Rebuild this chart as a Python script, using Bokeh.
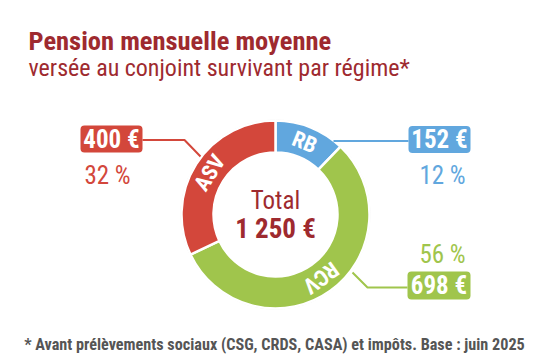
import numpy as np
from bokeh.plotting import figure
from bokeh.models import Range1d
from bokeh.core.properties import value
from bokeh.embed import file_html
from bokeh.resources import INLINE

# ---- data ----
regimes = ["RB", "RCV", "ASV"]
amounts = [152, 698, 400]
colors = ["#61a7de", "#a0c54c", "#d3473b"]
title = "Pension mensuelle moyenne"
subtitle = "versée au conjoint survivant par régime*"
footnote = "* Avant prélèvements sociaux (CSG, CRDS, CASA) et impôts. Base : juin 2025"

total = sum(amounts)
fracs = np.array(amounts) / total
cum = np.cumsum(fracs)

FONT = value("Roboto Condensed")
DARK = "#9e2a2f"

def Y(y):
    return 356 - y

p = figure(width=550, height=356, x_range=Range1d(0, 550), y_range=Range1d(0, 356),
           output_backend="svg", toolbar_location=None, min_border=0)
p.axis.visible = False
p.grid.visible = False
p.outline_line_color = None
p.background_fill_color = "white"

cx, cy = 275, Y(214)
r_in, r_out = 62, 94

start = np.pi / 2 - 2 * np.pi * (cum - fracs)
end = np.pi / 2 - 2 * np.pi * cum
p.circle(x=[cx], y=[cy], radius=r_out + 0.5, fill_color=None, line_color="#e4e4e4", line_width=1)
p.annular_wedge(x=cx, y=cy, inner_radius=r_in, outer_radius=r_out,
                start_angle=start, end_angle=end, direction="clock",
                fill_color=colors, line_color="white", line_width=2.5)

# ring labels
mid = np.pi / 2 - 2 * np.pi * (cum - fracs / 2)
rl = (r_in + r_out) / 2
p.text(x=cx + rl * np.cos(mid), y=cy + rl * np.sin(mid), text=regimes, angle=mid - np.pi / 2,
       text_align="center", text_baseline="middle", text_color="white",
       text_font=FONT, text_font_style="bold", text_font_size="22px")

# centre
p.text(x=[cx], y=[Y(200)], text=["Total"], text_align="center", text_baseline="middle",
       text_color=DARK, text_font=FONT, text_font_size="25px")
p.text(x=[cx], y=[Y(228)], text=[f"{total:,}".replace(",", " ") + " €"], text_align="center",
       text_baseline="middle", text_color=DARK, text_font=FONT, text_font_style="bold",
       text_font_size="27px")

# boxes + percents (layout)
box = {"RB": (439, 139, 62, 27), "RCV": (438.5, 285, 63, 28), "ASV": (111, 138.5, 62, 27)}
pct = {"RB": (442, 175), "RCV": (442, 254), "ASV": (107, 175)}
leaders = {"RB": ([333, 408], [140.5, 140.5]),
           "RCV": ([352, 367, 407], [272, 287, 287]),
           "ASV": ([142, 184, 200], [139.5, 139.5, 156])}

for reg, amt, col, f in zip(regimes, amounts, colors, fracs):
    lx, ly = leaders[reg]
    p.line(x=lx, y=[Y(v) for v in ly], line_color=col, line_width=2)
    bx, by, bw, bh = box[reg]
    p.quad(left=[bx - bw / 2], right=[bx + bw / 2], top=[Y(by - bh / 2)], bottom=[Y(by + bh / 2)],
           fill_color=col, line_color=None, border_radius=4)
    p.text(x=[bx], y=[Y(by)], text=[f"{amt} €"], text_align="center", text_baseline="middle",
           text_color="white", text_font=FONT, text_font_style="bold", text_font_size="25px")
    px_, py_ = pct[reg]
    p.text(x=[px_], y=[Y(py_)], text=[f"{round(f * 100)} %"], text_align="center",
           text_baseline="middle", text_color=col, text_font=FONT, text_font_size="25px")

# titles
p.text(x=[28], y=[Y(40)], text=[title], text_align="left", text_baseline="alphabetic",
       text_color=DARK, text_font=FONT, text_font_style="bold", text_font_size="26.5px")
p.text(x=[28], y=[Y(67)], text=[subtitle], text_align="left", text_baseline="alphabetic",
       text_color=DARK, text_font=FONT, text_font_size="24px")
p.text(x=[274], y=[Y(344)], text=[footnote], text_align="center", text_baseline="alphabetic",
       text_color="#555555", text_font=FONT, text_font_style="bold", text_font_size="16.2px")

open("out.html", "w").write(file_html(p, INLINE))
